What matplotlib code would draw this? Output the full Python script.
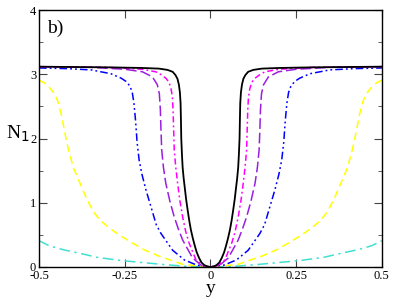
import numpy as np
import matplotlib
matplotlib.use("Agg")
import matplotlib.pyplot as plt
from matplotlib.ticker import MultipleLocator

plt.rcParams['font.family'] = ['Liberation Serif', 'DejaVu Serif']

# right half of each curve (y >= 0), the curves are symmetric in y
y_black = [0, 0.01, 0.018, 0.026, 0.033, 0.040, 0.045, 0.051, 0.057, 0.062, 0.0665, 0.071, 0.074, 0.078,
           0.081, 0.083, 0.085, 0.086, 0.087, 0.089, 0.092, 0.096, 0.102, 0.110, 0.125, 0.15, 0.2, 0.3, 0.5]
n_black = [0, 0.01, 0.03, 0.07, 0.14, 0.23, 0.32, 0.44, 0.58, 0.73, 0.89, 1.06, 1.2, 1.38,
           1.55, 1.75, 2.0, 2.3, 2.55, 2.72, 2.84, 2.93, 2.99, 3.04, 3.07, 3.09, 3.10, 3.11, 3.12]

y_mag = [0, 0.02, 0.042, 0.062, 0.072, 0.081, 0.089, 0.0956, 0.101, 0.1055, 0.107, 0.109, 0.111,
         0.115, 0.121, 0.130, 0.145, 0.159, 0.2, 0.3, 0.5]
n_mag = [0, 0.02, 0.11, 0.37, 0.55, 0.78, 1.03, 1.30, 1.55, 1.82, 2.1, 2.45, 2.65,
         2.78, 2.88, 2.94, 3.0, 3.04, 3.08, 3.11, 3.12]

y_pur = [0, 0.025, 0.052, 0.081, 0.094, 0.1055, 0.118, 0.130, 0.137, 0.142, 0.144, 0.146, 0.149,
         0.155, 0.169, 0.198, 0.25, 0.35, 0.5]
n_pur = [0, 0.02, 0.14, 0.42, 0.6, 0.78, 1.02, 1.30, 1.55, 1.82, 2.1, 2.45, 2.7,
         2.84, 2.96, 3.04, 3.08, 3.11, 3.12]

y_blue = [0, 0.04, 0.076, 0.110, 0.144, 0.158, 0.1735, 0.188, 0.200, 0.208, 0.214, 0.218, 0.223,
          0.228, 0.235, 0.246, 0.260, 0.290, 0.348, 0.42, 0.5]
n_blue = [0, 0.03, 0.11, 0.26, 0.52, 0.66, 0.94, 1.2, 1.45, 1.67, 1.95, 2.26, 2.55,
          2.72, 2.82, 2.89, 2.94, 3.01, 3.07, 3.09, 3.10]

y_yel = [0, 0.08, 0.15, 0.19, 0.23, 0.26, 0.28, 0.30, 0.32, 0.34, 0.36, 0.38, 0.40, 0.415, 0.425,
         0.435, 0.445, 0.455, 0.47, 0.485, 0.5]
n_yel = [0, 0.04, 0.17, 0.26, 0.38, 0.48, 0.55, 0.63, 0.72, 0.85, 1.05, 1.3, 1.55, 1.85, 2.1,
         2.38, 2.58, 2.7, 2.8, 2.87, 2.91]

y_cyan = [0, 0.07, 0.14, 0.2, 0.26, 0.33, 0.37, 0.43, 0.47, 0.5]
n_cyan = [0, 0.01, 0.04, 0.07, 0.1, 0.15, 0.2, 0.27, 0.33, 0.41]

curves = [
    (y_cyan, n_cyan, '#40e0d0', (0, (7, 3, 1.5, 3)), 1.1),
    (y_yel, n_yel, '#ffff00', (0, (5, 3)), 1.1),
    (y_blue, n_blue, '#0000ff', (0, (5, 2, 1.2, 2, 1.2, 2)), 1.1),
    (y_pur, n_pur, '#9a20e0', (0, (7, 2.5)), 1.1),
    (y_mag, n_mag, '#ff00ff', (0, (4, 2, 1.2, 2)), 1.1),
    (y_black, n_black, 'black', '-', 1.3),
]

fig = plt.figure(figsize=(3.95, 3.05), dpi=100)
ax = fig.add_axes([0.0987, 0.1246, 0.868, 0.842])

for ys, ns, c, ls, lw in curves:
    ys = np.array(ys)
    ns = np.array(ns)
    x = np.concatenate([-ys[::-1], ys[1:]])
    n = np.concatenate([ns[::-1], ns[1:]])
    ax.plot(x, n, color=c, linestyle=ls, linewidth=lw)

ax.set_xlim(-0.5, 0.5)
ax.set_ylim(0, 4)
ax.set_xticks([-0.5, -0.25, 0, 0.25, 0.5])
ax.set_xticklabels(['-0.5', '-0.25', '0', '0.25', '0.5'])
ax.set_yticks([0, 1, 2, 3, 4])
ax.yaxis.set_minor_locator(MultipleLocator(0.5))
ax.tick_params(which='both', direction='in', top=True, right=True, labelsize=9, pad=2, color='#444444')
ax.tick_params(which='major', length=6)
ax.tick_params(which='minor', length=3)
for s in ax.spines.values():
    s.set_linewidth(1.0)

ax.set_xlabel('y', fontsize=14, labelpad=-1)
ax.set_ylabel(r'N$_1$', fontsize=14, rotation=0)
ax.yaxis.set_label_coords(-0.062, 0.48)
ax.text(0.025, 0.93, 'b)', transform=ax.transAxes, fontsize=14, va='center')

fig.savefig('out.png', dpi=100)
